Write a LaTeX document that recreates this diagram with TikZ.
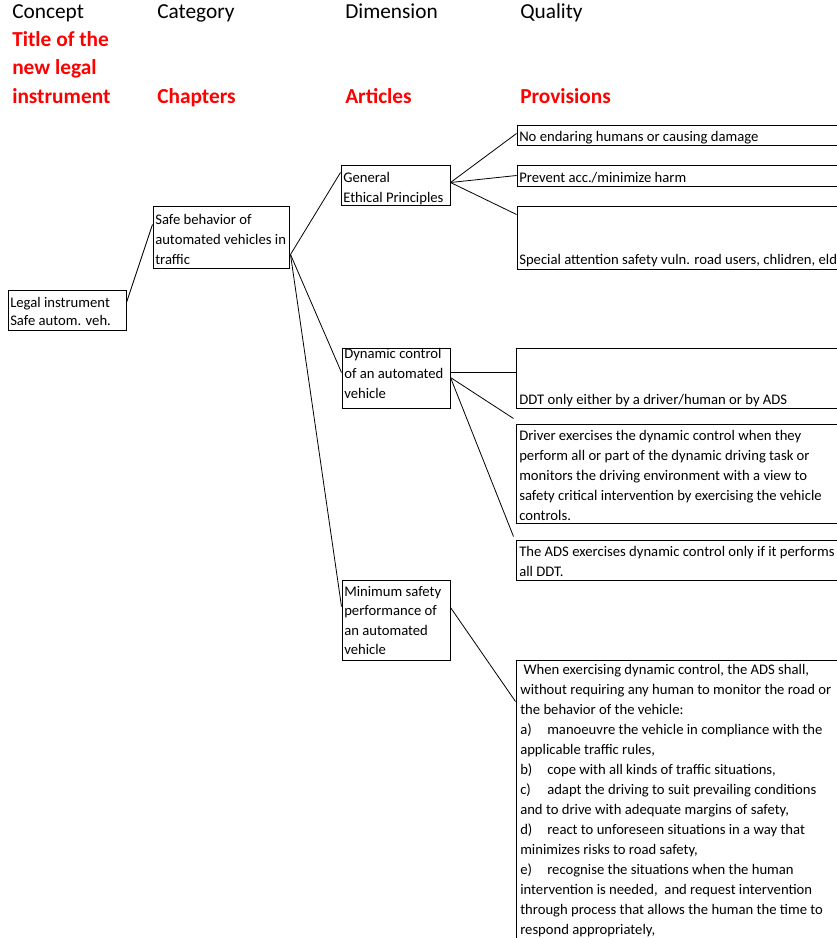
\documentclass[tikz,border=0pt]{standalone}
\usepackage{fontspec}
\setmainfont{Carlito}
\usetikzlibrary{fit,calc}
\definecolor{hdrred}{RGB}{255,0,0}
\newcommand\itmlbl[1]{\makebox[20.25pt][l]{#1}}
\begin{document}
\begin{tikzpicture}[x=0.75pt,y=-0.75pt,
  box/.style={draw=black, line width=0.75pt, inner sep=0pt, rectangle},
  conn/.style={draw=black, line width=0.6pt},
  txt/.style={inner sep=0pt, anchor=base west, align=left, font=\fontsize{11pt}{15pt}\selectfont},
  hdr/.style={inner sep=0pt, anchor=base west, align=left, font=\fontsize{16pt}{21.3pt}\selectfont},
  hdrb/.style={inner sep=0pt, anchor=base west, align=left, text=hdrred, font=\fontsize{16pt}{21.3pt}\selectfont\bfseries}]
\useasboundingbox (0,0) rectangle (837,938);
\clip (0,0) rectangle (837,938);
% headers (multi-line nodes are placed by the baseline of their last line)
\node[hdr] (hConcept) at (12,18.3) {Concept};
\node[hdr] (hCategory) at (157,18.3) {Category};
\node[hdr] (hDimension) at (345,18.3) {Dimension};
\node[hdr] (hQuality) at (520,18.3) {Quality};
\node[hdrb] (hTitle) at (12,103.3) {Title of the\\new legal\\instrument};
\node[hdrb] (hChapters) at (157,103.3) {Chapters};
\node[hdrb] (hArticles) at (345,103.3) {Articles};
\node[hdrb] (hProvisions) at (520,103.3) {Provisions};
% boxes
\node[box, fit={(8,290) (126,330)}] (legal) {};
\node[box, fit={(153,206) (289,268)}] (safe) {};
\node[box, fit={(341,166) (450,205)}] (general) {};
\node[box, fit={(517,126) (850,146)}] (noend) {};
\node[box, fit={(517,166) (850,186)}] (prevent) {};
\node[box, fit={(517,206) (850,269)}] (special) {};
\node[box, fit={(342,348) (450,408)}] (dynamic) {};
\node[box, fit={(516,348) (850,408)}] (ddt) {};
\node[box, fit={(516,424) (850,523)}] (driver) {};
\node[box, fit={(516,540) (850,580)}] (adsbox) {};
\node[box, fit={(342,580) (450,660)}] (minimum) {};
\node[box, fit={(516,660) (850,960)}] (when) {};
% texts
\node[txt, font=\fontsize{11pt}{13.5pt}\selectfont] (legalT) at (10,325) {Legal instrument\\Safe autom. veh.};
\node[txt] (safeT) at (155,264) {Safe behavior of\\automated vehicles in\\traffic};
\node[txt] (generalT) at (343,202) {General\\Ethical Principles};
\node[txt] (noendT) at (519,142) {No endaring humans or causing damage};
\node[txt] (preventT) at (519,182) {Prevent acc./minimize harm};
\node[txt] (specialT) at (519,264) {Special attention safety vuln. road users, chlidren, elderly};
\node[txt] (dynamicT) at (344,398) {Dynamic control\\of an automated\\vehicle};
\node[txt] (ddtT) at (519,404) {DDT only either by a driver/human or by ADS};
\node[txt] (driverT) at (519,520) {Driver exercises the dynamic control when they\\perform all or part of the dynamic driving task or\\monitors the driving environment with a view to\\safety critical intervention by exercising the vehicle\\controls.};
\node[txt] (adsT) at (519,576) {The ADS exercises dynamic control only if it performs\\all DDT.};
\node[txt, font=\fontsize{11pt}{14.6pt}\selectfont] (minimumT) at (344,654.5) {Minimum safety\\performance of\\an automated\\vehicle};
\node[txt] (whenT) at (520,934) {\ When exercising dynamic control, the ADS shall,\\without requiring any human to monitor the road or\\the behavior of the vehicle:\\\itmlbl{a)}manoeuvre the vehicle in compliance with the\\applicable traffic rules,\\\itmlbl{b)}cope with all kinds of traffic situations,\\\itmlbl{c)}adapt the driving to suit prevailing conditions\\and to drive with adequate margins of safety,\\\itmlbl{d)}react to unforeseen situations in a way that\\minimizes risks to road safety,\\\itmlbl{e)}recognise the situations when the human\\intervention is needed,\ \ and request intervention\\through process that allows the human the time to\\respond appropriately,};
% connectors
\draw[conn] ($(legal.north east)+(0,13)$) -- ($(safe.north west)+(0,19)$);
\coordinate (safeOut) at ($(safe.north east)+(1,49)$);
\draw[conn] (safeOut) -- ($(general.north west)+(0,7)$);
\draw[conn] (safeOut) -- ($(dynamic.north west)+(0,25)$);
\draw[conn] (safeOut) -- ($(minimum.north west)+(0,27)$);
\coordinate (genOut) at ($(general.north east)+(0,17)$);
\draw[conn] (genOut) -- ($(noend.north west)+(0,8)$);
\draw[conn] (genOut) -- ($(prevent.north west)+(0,10)$);
\draw[conn] (genOut) -- ($(special.north west)+(0,9)$);
\draw[conn] ($(dynamic.north east)+(0,25)$) -- ($(ddt.north west)+(0,25)$);
\coordinate (dynOut) at ($(dynamic.north east)+(0,30)$);
\draw[conn] (dynOut) -- ($(driver.north west)+(-2,-5)$);
\draw[conn] (dynOut) -- ($(adsbox.north west)+(-2,-3)$);
\draw[conn] ($(minimum.north east)+(0,28)$) -- ($(when.north west)+(0,42)$);
\end{tikzpicture}
\end{document}
